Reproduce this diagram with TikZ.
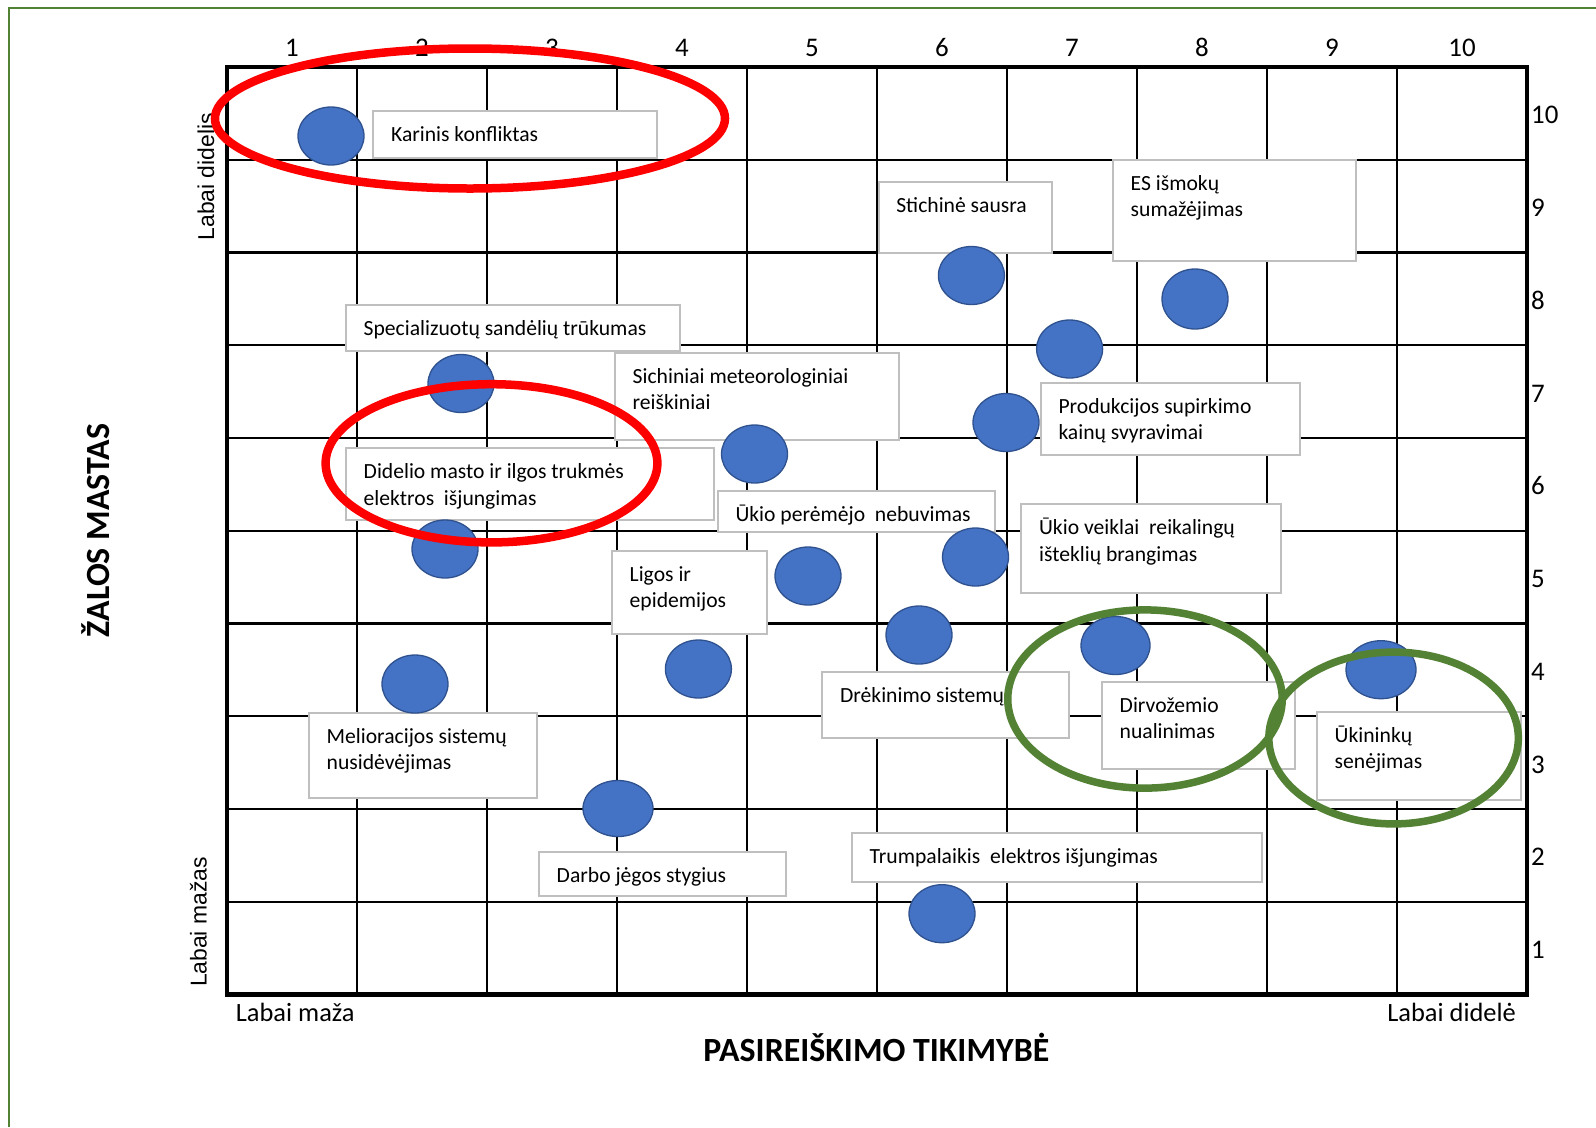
\documentclass[tikz,border=0pt]{standalone}
\usepackage{fontspec}
\setmainfont{Carlito}
\newfontfamily\arialfam{Liberation Sans}
\usetikzlibrary{shapes.geometric}
\definecolor{dotblue}{HTML}{4472C4}
\definecolor{dotedge}{HTML}{2F528F}
\definecolor{boxgray}{HTML}{BFBFBF}
\definecolor{ringgreen}{HTML}{548235}
\definecolor{ringred}{HTML}{FF0000}
\newcommand\twoline[2]{\begin{tabular}[t]{@{}l@{}}#1\\#2\end{tabular}}
\begin{document}
\begin{tikzpicture}[x=1bp, y=-1bp,
  lbl/.style={font=\fontsize{21.7}{26.5}\selectfont, inner sep=0pt, anchor=base west, text=black},
  boxst/.style={draw=boxgray, line width=2bp, fill=white, inner sep=0pt, anchor=north west},
  dotst/.style={ellipse, fill=dotblue, draw=dotedge, line width=1.3bp, inner sep=0pt, minimum width=66bp, minimum height=58bp},
  redring/.style={ellipse, draw=ringred, line width=8.5bp, inner sep=0pt},
  greenring/.style={ellipse, draw=ringgreen, line width=7.5bp, inner sep=0pt},
  numst/.style={font=\fontsize{27}{30}\selectfont, inner sep=0pt},
  axlbl/.style={font=\fontsize{26.5}{30}\selectfont, inner sep=0pt},
  sidelbl/.style={font=\arialfam\fontsize{23}{26}\selectfont, inner sep=0pt, rotate=90, anchor=base},
  titlest/.style={font=\bfseries\fontsize{34}{38}\selectfont, inner sep=0pt, anchor=base}
]
\useasboundingbox (0,0) rectangle (1596,1127);
\fill[white] (0,0) rectangle (1596,1127);
% outer frame (only top and left visible)
\draw[ringgreen, line width=2.2bp] (1596,8) -- (9,8) -- (9,1127);

% grid
\foreach \i in {1,...,9} {
  \draw[line width=2.2bp] (227+130*\i,67) -- (227+130*\i,994.5);
  \draw[line width=2.2bp] (227,67+92.75*\i) -- (1527,67+92.75*\i);
}
\draw[line width=4.5bp] (227,67) rectangle (1527,994.5);

% axis numbers
\foreach \i in {1,...,10} {
  \node[numst, anchor=base] (top\i) at (162+130*\i,56.7) {\i};
  \node[numst, anchor=base west] (right\i) at (1531,1051.4-92.75*\i) {\i};
}

% axis labels
\node[sidelbl] (ylhigh) at (214,176.7) {Labai didelis};
\node[sidelbl] (yllow) at (206.6,922) {Labai mažas};
\node[titlest, rotate=90] (ytitle) at (109.5,530.5) {ŽALOS MASTAS};
\node[titlest] (xtitle) at (876.3,1061.7) {PASIREIŠKIMO TIKIMYBĖ};
\node[axlbl, anchor=base west] (xllow) at (235.7,1021.7) {Labai maža};
\node[axlbl, anchor=base east] (xlhigh) at (1516,1021.7) {Labai didelė};

% label boxes
\node[boxst, minimum width=283.2bp, minimum height=46.7bp] (bA) at (372.4,110) {};
\node[boxst, minimum width=333.6bp, minimum height=46bp] (bB) at (345,304) {};
\node[boxst, minimum width=284bp, minimum height=87bp] (bC) at (614,352) {};
\node[boxst, minimum width=367.5bp, minimum height=71.7bp] (bD) at (345,447.3) {};
\node[boxst, minimum width=277.1bp, minimum height=41bp] (bE) at (716.8,490) {};
\node[boxst, minimum width=155.3bp, minimum height=83.3bp] (bF) at (611,550) {};
\node[boxst, minimum width=227.7bp, minimum height=85bp] (bG) at (308,711.7) {};
\node[boxst, minimum width=246.7bp, minimum height=44.3bp] (bH) at (538,850.7) {};
\node[boxst, minimum width=409.7bp, minimum height=49bp] (bI) at (851,831.7) {};
\node[boxst, minimum width=247bp, minimum height=66.6bp] (bJ) at (821.4,670.7) {};
\node[boxst, minimum width=193bp, minimum height=87.6bp] (bK) at (1101,680.7) {};
\node[boxst, minimum width=204bp, minimum height=88.3bp] (bL) at (1316,710.7) {};
\node[boxst, minimum width=173.4bp, minimum height=70.7bp] (bM) at (877.6,181) {};
\node[boxst, minimum width=242.6bp, minimum height=101bp] (bN) at (1112,159) {};
\node[boxst, minimum width=258.7bp, minimum height=72.3bp] (bO) at (1039.8,381.7) {};
\node[boxst, minimum width=259.2bp, minimum height=89bp] (bP) at (1020.4,503.3) {};

% label texts
\node[lbl] (tA) at ([shift={(18.5,31.5)}]bA.north west) {Karinis konfliktas};
\node[lbl] (tB) at ([shift={(18.5,31.5)}]bB.north west) {Specializuotų sandėlių trūkumas};
\node[lbl] (tC) at ([shift={(18.5,31.5)}]bC.north west) {\twoline{Sichiniai meteorologiniai}{reiškiniai}};
\node[lbl] (tD) at ([shift={(18.5,31.5)}]bD.north west) {\twoline{Didelio masto ir ilgos trukmės}{elektros\ \ išjungimas}};
\node[lbl] (tE) at ([shift={(18.5,31.5)}]bE.north west) {Ūkio perėmėjo\ \ nebuvimas};
\node[lbl] (tF) at ([shift={(18.5,31.5)}]bF.north west) {\twoline{Ligos ir}{epidemijos}};
\node[lbl] (tG) at ([shift={(18.5,31.5)}]bG.north west) {\twoline{Melioracijos sistemų}{nusidėvėjimas}};
\node[lbl] (tH) at ([shift={(18.5,31.5)}]bH.north west) {Darbo jėgos stygius};
\node[lbl] (tI) at ([shift={(18.5,31.5)}]bI.north west) {Trumpalaikis\ \ elektros išjungimas};
\node[lbl] (tJ) at ([shift={(18.5,31.5)}]bJ.north west) {Drėkinimo sistemų};
\node[lbl] (tK) at ([shift={(18.5,31.5)}]bK.north west) {\twoline{Dirvožemio}{nualinimas}};
\node[lbl] (tL) at ([shift={(18.5,31.5)}]bL.north west) {\twoline{Ūkininkų}{senėjimas}};
\node[lbl] (tM) at ([shift={(18.5,31.5)}]bM.north west) {Stichinė sausra};
\node[lbl] (tN) at ([shift={(18.5,31.5)}]bN.north west) {\twoline{ES išmokų}{sumažėjimas}};
\node[lbl] (tO) at ([shift={(18.5,31.5)}]bO.north west) {\twoline{Produkcijos supirkimo}{kainų svyravimai}};
\node[lbl] (tP) at ([shift={(18.5,31.5)}]bP.north west) {\twoline{Ūkio veiklai\ \ reikalingų}{išteklių brangimas}};

% risk dots
\node[dotst] (d1) at (331,136) {};
\node[dotst] (d2) at (461,383.5) {};
\node[dotst] (d3) at (445,549) {};
\node[dotst] (d4) at (754.5,454) {};
\node[dotst] (d5) at (808,576) {};
\node[dotst] (d6) at (698.4,669) {};
\node[dotst] (d7) at (415,684) {};
\node[dotst, minimum width=70bp, minimum height=56bp] (d8) at (618,808.5) {};
\node[dotst] (d9) at (942,913.7) {};
\node[dotst] (d10) at (919,635) {};
\node[dotst, minimum width=69bp] (d11) at (1115.5,645.5) {};
\node[dotst, minimum width=70bp] (d12) at (1381,669.7) {};
\node[dotst] (d13) at (971.4,275.5) {};
\node[dotst, minimum height=60bp] (d14) at (1195,299) {};
\node[dotst] (d15) at (1069.6,349) {};
\node[dotst] (d16) at (1006,422.5) {};
\node[dotst] (d17) at (975.5,557) {};

% highlight rings
\node[redring, minimum width=510bp, minimum height=140bp] (r1) at (470,118.5) {};
\node[redring, minimum width=331.8bp, minimum height=158.2bp] (r2) at (491.5,463.3) {};
\node[greenring, minimum width=274.5bp, minimum height=178.2bp] (g1) at (1145,699) {};
\node[greenring, minimum width=249.5bp, minimum height=171.8bp] (g2) at (1393.6,738) {};
\end{tikzpicture}
\end{document}
